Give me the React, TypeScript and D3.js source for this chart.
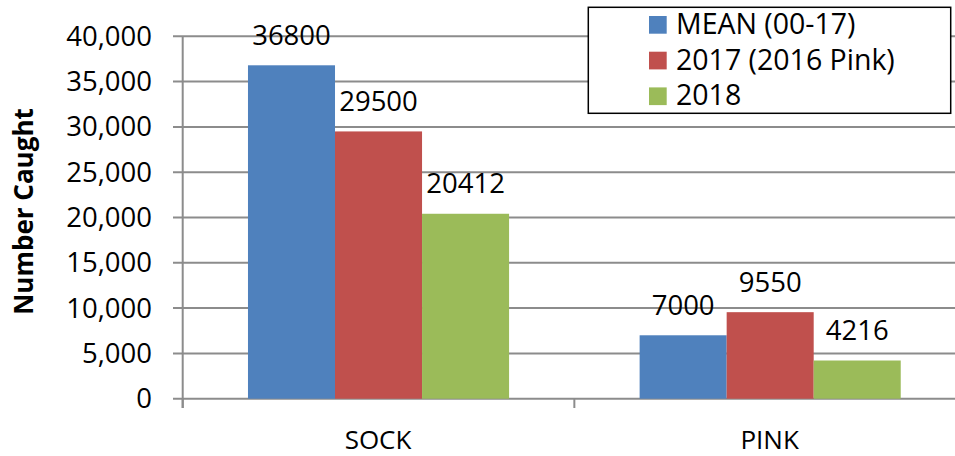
import React from "react";
import * as d3 from "d3";

const categories = ["SOCK", "PINK"];
const seriesNames = ["MEAN (00-17)", "2017 (2016 Pink)", "2018"];
const seriesColors = ["#4F81BD", "#C0504D", "#9BBB59"];
const meanValues = [36800, 7000];
const y2017Values = [29500, 9550];
const y2018Values = [20412, 4216];
const yTicks = [0, 5000, 10000, 15000, 20000, 25000, 30000, 35000, 40000];

const W = 955;
const H = 456;
const FONT = "'Open Sans', sans-serif";

export default function App() {
  const seriesValues = [meanValues, y2017Values, y2018Values];
  const left = 182.7;
  const right = 966;
  const x = d3.scaleBand<string>().domain(categories).range([left, right]).paddingInner(0).paddingOuter(0);
  const xi = d3
    .scaleBand<string>()
    .domain(seriesNames)
    .range([0, x.bandwidth()])
    .paddingInner(0)
    .paddingOuter(0.75);
  const y = d3.scaleLinear().domain([0, 40000]).range([398.7, 36.3]);
  const fmt = d3.format(",");
  const gridColor = "#8C8C8C";
  const boundaries = [...categories.map((c) => x(c) as number), right];

  return (
    <div style={{ position: "absolute", left: 0, top: 0 }}>
      <svg width={W} height={H} style={{ display: "block", background: "#fff" }}>
        {/* gridlines */}
        {yTicks.map((t) => (
          <line key={"g" + t} x1={173} x2={right} y1={y(t)} y2={y(t)} stroke={gridColor} strokeWidth={2} />
        ))}
        {/* y axis line */}
        <line x1={left} x2={left} y1={y(40000)} y2={408} stroke={gridColor} strokeWidth={2} />
        {/* x ticks */}
        {boundaries.map((b, i) => (
          <line key={"xt" + i} x1={b} x2={b} y1={y(0)} y2={408} stroke={gridColor} strokeWidth={2} />
        ))}
        {/* y tick labels */}
        {yTicks.map((t) => (
          <text key={"yl" + t} x={152} y={y(t) + 9.5} textAnchor="end" fontFamily={FONT} fontSize={27.5} fill="#000">
            {fmt(t)}
          </text>
        ))}
        {/* bars */}
        {seriesNames.map((s, si) =>
          categories.map((c, ci) => {
            const v = seriesValues[si][ci];
            const bx = (x(c) as number) + (xi(s) as number);
            return (
              <rect
                key={s + c}
                x={bx}
                y={y(v)}
                width={xi.bandwidth()}
                height={y(0) - y(v)}
                fill={seriesColors[si]}
              />
            );
          })
        )}
        {/* data labels */}
        {seriesNames.map((s, si) =>
          categories.map((c, ci) => {
            const v = seriesValues[si][ci];
            const cx = (x(c) as number) + (xi(s) as number) + xi.bandwidth() / 2;
            return (
              <text
                key={"dl" + s + c}
                x={cx}
                y={y(v) - 20.5}
                textAnchor="middle"
                fontFamily={FONT}
                fontSize={27.5}
                fill="#000"
              >
                {String(v)}
              </text>
            );
          })
        )}
        {/* x labels */}
        {categories.map((c) => (
          <text
            key={"xl" + c}
            x={(x(c) as number) + x.bandwidth() / 2 - 0.5}
            y={449.3}
            textAnchor="middle"
            fontFamily={FONT}
            fontSize={26}
            fill="#000"
          >
            {c}
          </text>
        ))}
        {/* y axis title */}
        <text
          transform={`translate(32.5, 211.5) rotate(-90)`}
          textAnchor="middle"
          fontFamily={FONT}
          fontSize={26}
          fontWeight="bold"
          fill="#000"
        >
          Number Caught
        </text>
        {/* legend */}
        <rect x={588.3} y={7.3} width={362.4} height={106} fill="#fff" stroke="#000" strokeWidth={1.5} />
        {seriesNames.map((s, i) => (
          <g key={"lg" + s} transform={`translate(649, ${16 + i * 35.7})`}>
            <rect x={0} y={0} width={17.7} height={17.7} fill={seriesColors[i]} />
            <text x={27} y={17.8} fontFamily={FONT} fontSize={28.5} fill="#000">
              {s}
            </text>
          </g>
        ))}
      </svg>
    </div>
  );
}
